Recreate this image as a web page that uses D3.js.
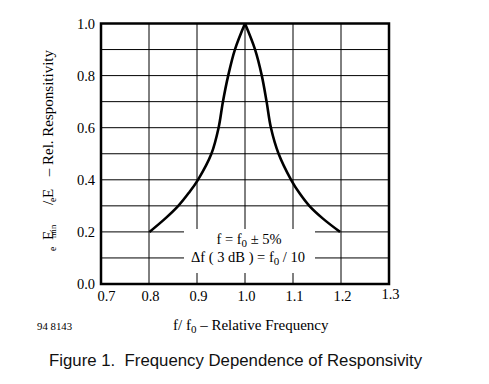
<!DOCTYPE html>
<html>
<head>
<meta charset="utf-8">
<script src="https://cdn.jsdelivr.net/npm/d3@7"></script>
<style>
  html, body { margin: 0; padding: 0; background: #fff; }
  svg { display: block; }
  .serif { font-family: "Liberation Serif", "Times New Roman", serif; fill: #000; }
</style>
</head>
<body>
<svg id="chart" width="489" height="384"></svg>
<script>
// ---- data ----
const xTickValues = [0.7, 0.8, 0.9, 1.0, 1.1, 1.2, 1.3];
const yTickValues = [0.0, 0.2, 0.4, 0.6, 0.8, 1.0];
const xGrid = [0.8, 0.9, 1.0, 1.1, 1.2];
const yGrid = [0.1, 0.2, 0.3, 0.4, 0.5, 0.6, 0.7, 0.8, 0.9];

// left flank (rising) and right flank (falling) of the response curve
const leftFreq  = [0.801, 0.833, 0.861, 0.883, 0.902, 0.930, 0.945, 0.954, 0.965, 0.979, 1.000];
const leftResp  = [0.20,  0.25,  0.30,  0.35,  0.40,  0.50,  0.60,  0.70,  0.80,  0.90,  1.00];
const rightFreq = [1.000, 1.021, 1.035, 1.045, 1.054, 1.070, 1.096, 1.113, 1.134, 1.163, 1.198];
const rightResp = [1.00,  0.90,  0.80,  0.70,  0.60,  0.50,  0.40,  0.35,  0.30,  0.25,  0.20];

const annotation = ["f = f", "0", " \u00B1 5%"];
const annotation2 = ["\u0394f ( 3 dB ) = f", "0", " / 10"];

// ---- layout ----
const svg = d3.select("#chart");
const x = d3.scaleLinear().domain([0.7, 1.3]).range([101, 389]);
const y = d3.scaleLinear().domain([0, 1]).range([284, 23.5]);

// grid
svg.append("g").selectAll("line").data(xGrid).join("line")
  .attr("x1", d => x(d)).attr("x2", d => x(d))
  .attr("y1", y(0)).attr("y2", y(1))
  .attr("stroke", "#000").attr("stroke-width", 1);
svg.append("g").selectAll("line").data(yGrid).join("line")
  .attr("x1", x(0.7)).attr("x2", x(1.3))
  .attr("y1", d => y(d)).attr("y2", d => y(d))
  .attr("stroke", "#000").attr("stroke-width", 1);

// white label box
svg.append("rect").attr("x", 184).attr("y", 229).attr("width", 131).attr("height", 44).attr("fill", "#fff");

// curve
const line = d3.line().x(d => x(d[0])).y(d => y(d[1])).curve(d3.curveCatmullRom.alpha(0.5));
[[leftFreq, leftResp], [rightFreq, rightResp]].forEach(([fs, rs]) => {
  svg.append("path")
    .datum(fs.map((f, i) => [f, rs[i]]))
    .attr("d", line)
    .attr("fill", "none").attr("stroke", "#000")
    .attr("stroke-width", 2.6).attr("stroke-linejoin", "round");
});

// border
svg.append("rect")
  .attr("x", x(0.7)).attr("y", y(1))
  .attr("width", x(1.3) - x(0.7)).attr("height", y(0) - y(1))
  .attr("fill", "none").attr("stroke", "#000").attr("stroke-width", 2.5);

// axes (labels only)
const yAxis = svg.append("g").attr("transform", "translate(95,0)")
  .call(d3.axisLeft(y).tickValues(yTickValues).tickSize(0).tickPadding(0).tickFormat(d3.format(".1f")));
yAxis.select(".domain").remove();
yAxis.selectAll("text").attr("class", "serif").attr("font-size", 14.5).attr("dy", "0.32em")
  .style("font-family", "'Liberation Serif', serif").attr("fill", "#000");

const xAxis = svg.append("g").attr("transform", "translate(0,291)")
  .call(d3.axisBottom(x).tickValues(xTickValues).tickSize(0).tickPadding(0).tickFormat(d3.format(".1f")));
xAxis.select(".domain").remove();
xAxis.selectAll("text").attr("font-size", 14.5).attr("dy", "0.71em")
  .style("font-family", "'Liberation Serif', serif").attr("fill", "#000")
  .attr("dx", d => d === 0.7 ? 5 : 1)
  .attr("y", d => d === 1.3 ? -2 : 0);

// annotation
function subText(parts, cx, by) {
  const t = svg.append("text").attr("class", "serif").attr("x", cx).attr("y", by)
    .attr("text-anchor", "middle").attr("font-size", 14.5);
  t.append("tspan").text(parts[0]);
  t.append("tspan").text(parts[1]).attr("font-size", 11).attr("dy", 3);
  t.append("tspan").text(parts[2]).attr("dy", -3);
}
subText(annotation, 249, 244);
subText(annotation2, 248, 262);

// y axis title (rotated)
const yt = svg.append("g").attr("transform", "translate(53,0) rotate(-90)");
function ytext(str, pos, size, sub, anchor) {
  yt.append("text").attr("class", "serif").attr("x", -pos).attr("y", sub ? 3 : 0)
    .attr("font-size", size).attr("text-anchor", anchor || "start").text(str);
}
ytext("e", 251, 9.5, true);
ytext("E", 240, 15);
ytext("min", 238, 8.5, true);
ytext("/", 205, 15);
ytext("e", 202, 9.5, true);
ytext("E", 198, 15);
ytext("\u2013 Rel. Responsitivity", 50, 15, false, "end");

// x axis title
const xt = svg.append("text").attr("class", "serif").attr("x", 173).attr("y", 330).attr("font-size", 15);
xt.append("tspan").text("f/ f");
xt.append("tspan").text("0").attr("font-size", 11).attr("dy", 3);
xt.append("tspan").text(" \u2013 Relative Frequency").attr("dy", -3);

// figure id
svg.append("text").attr("class", "serif").attr("x", 37).attr("y", 329.5).attr("font-size", 10.8).text("94 8143");

// caption
svg.append("text").attr("x", 49).attr("y", 366)
  .style("font-family", "'Liberation Sans', Arial, sans-serif").attr("font-size", 16.8).attr("fill", "#111")
  .text("Figure 1.  Frequency Dependence of Responsivity").style("white-space", "pre");
</script>
</body>
</html>
